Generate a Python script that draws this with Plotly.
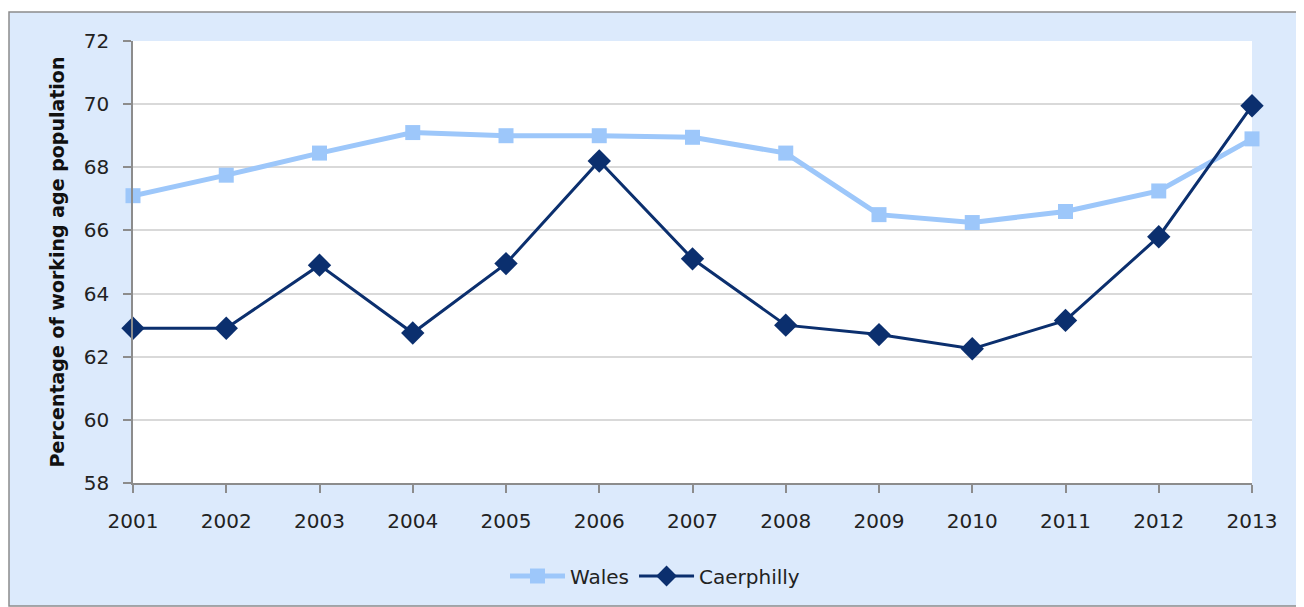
import plotly.graph_objects as go

years = [2001, 2002, 2003, 2004, 2005, 2006, 2007, 2008, 2009, 2010, 2011, 2012, 2013]
wales = [67.1, 67.75, 68.45, 69.1, 69.0, 69.0, 68.95, 68.45, 66.5, 66.25, 66.6, 67.25, 68.9]
caerphilly = [62.9, 62.9, 64.9, 62.75, 64.95, 68.2, 65.1, 63.0, 62.7, 62.25, 63.15, 65.8, 69.95]
y_ticks = [58, 60, 62, 64, 66, 68, 70, 72]

BG = "#DCEAFC"
FONT = "DejaVu Sans"

fig = go.Figure()
fig.add_trace(go.Scatter(
    x=years, y=wales, name="Wales", mode="lines+markers",
    line=dict(color="#9DC7FA", width=5),
    marker=dict(symbol="square", size=15, color="#9DC7FA"),
    cliponaxis=False,
))
fig.add_trace(go.Scatter(
    x=years, y=caerphilly, name="Caerphilly", mode="lines+markers",
    line=dict(color="#0B2F6E", width=3),
    marker=dict(symbol="diamond", size=18, color="#0B2F6E"),
    cliponaxis=False,
))

OFF = 8  # page body margin
W, H = 1304 - OFF, 607 - OFF
L, R, T, B = 133 - OFF, 1252 - OFF, 41 - OFF, 483 - OFF
pw, ph = R - L, B - T

def px2x(px):
    return (px - OFF - L) / pw

def px2y(py):
    return (B - (py - OFF)) / ph

fig.add_shape(type="rect", xref="paper", yref="paper",
              x0=px2x(9), x1=px2x(1301), y0=px2y(606), y1=px2y(12),
              fillcolor=BG, line=dict(color="#8C8C8C", width=1.5), layer="below")
fig.add_shape(type="rect", xref="paper", yref="paper",
              x0=0, x1=1, y0=0, y1=1,
              fillcolor="white", line=dict(width=0), layer="below")

fig.update_layout(
    width=W, height=H,
    margin=dict(l=L, r=W - R, t=T, b=H - B),
    paper_bgcolor="white",
    plot_bgcolor="rgba(0,0,0,0)",
    font=dict(family=FONT, size=20, color="#222222"),
    showlegend=True,
    legend=dict(orientation="h", x=px2x(655), xanchor="center",
                y=px2y(576), yanchor="middle", itemwidth=55,
                font=dict(family=FONT, size=20, color="#222222"),
                bgcolor="rgba(0,0,0,0)"),
)
fig.update_xaxes(
    range=[2001, 2013], tickvals=years, ticktext=[str(y) for y in years],
    showgrid=False, showline=True, linecolor="#8C8C8C", linewidth=1.5,
    ticks="outside", ticklen=8, tickcolor="#8C8C8C", tickwidth=1.5,
    ticklabelstandoff=11, zeroline=False,
)
fig.update_yaxes(
    range=[58, 72], tickvals=y_ticks,
    showgrid=True, gridcolor="#D9D9D9", gridwidth=1.5,
    showline=True, linecolor="#8C8C8C", linewidth=1.5,
    ticks="outside", ticklen=8, tickcolor="#8C8C8C", tickwidth=1.5,
    ticklabelstandoff=10, zeroline=False,
    title=dict(text="<b>Percentage of working age population</b>",
               font=dict(family=FONT, size=19, color="#111111"), standoff=14),
)

fig.write_html("out.html")
